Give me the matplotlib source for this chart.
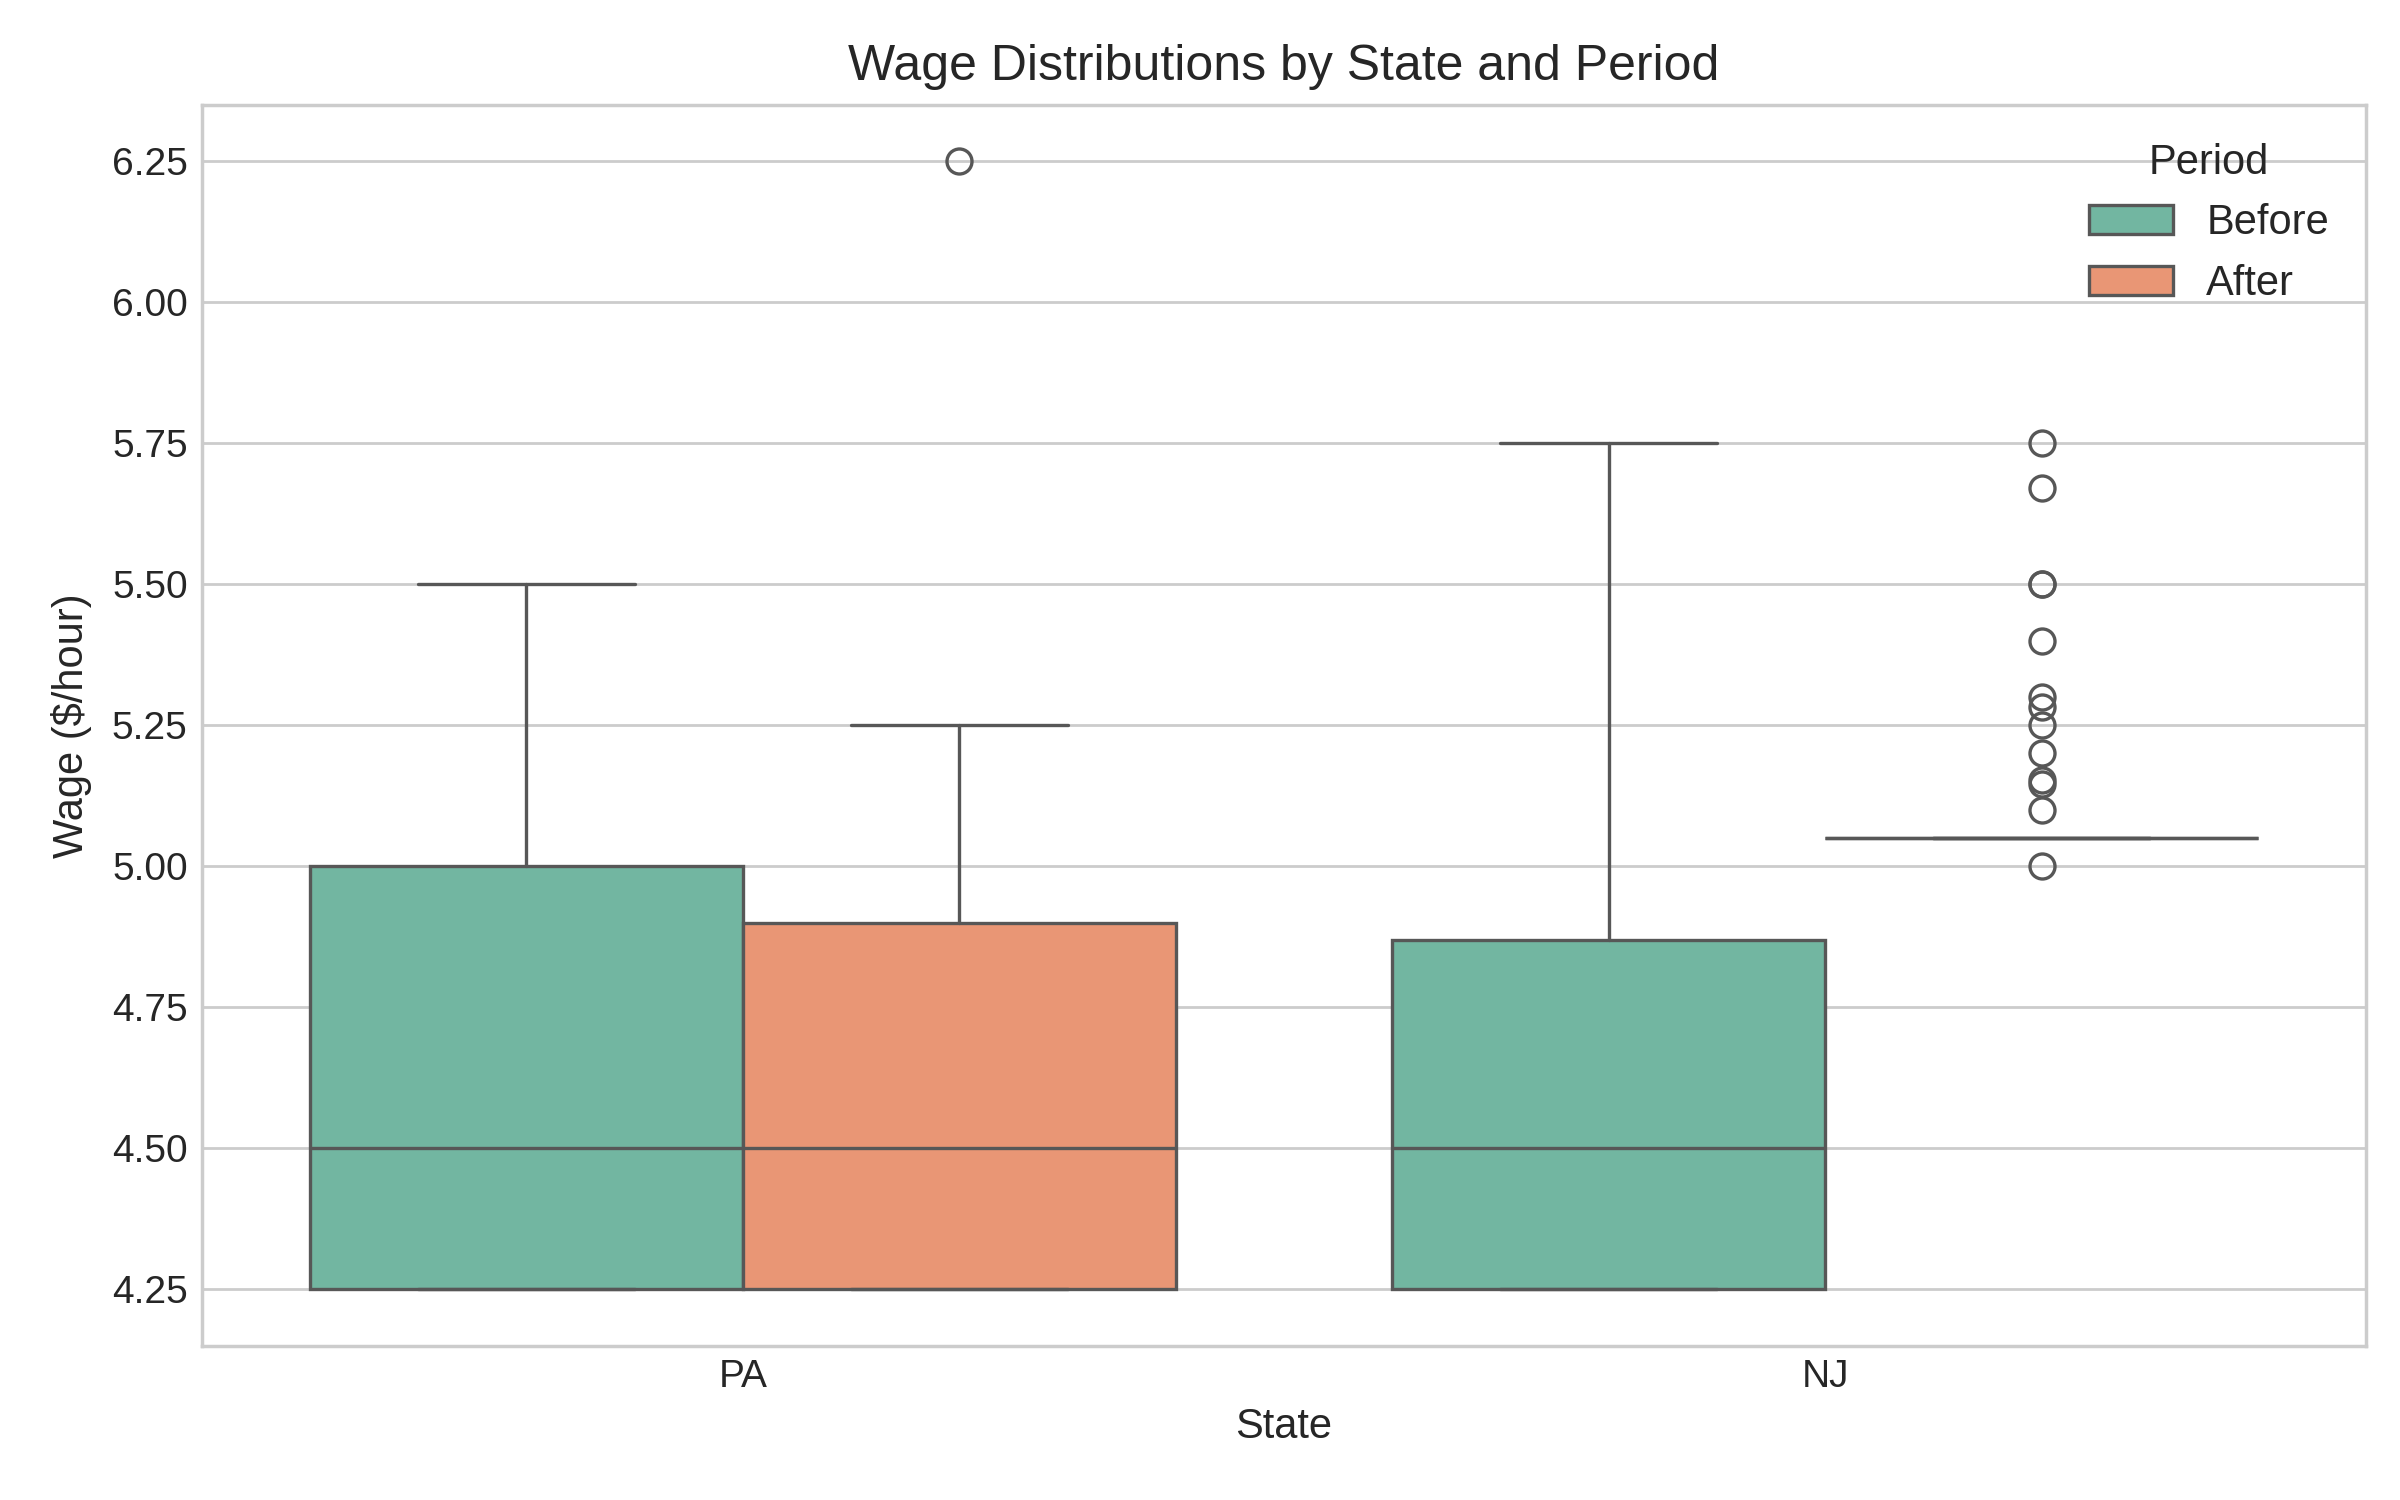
import matplotlib
matplotlib.use("Agg")
import matplotlib.pyplot as plt
from matplotlib.patches import Patch
import seaborn as sns

# ---- data ----
states = ["PA", "NJ"]
periods = ["Before", "After"]
q1 = {"PA": [4.25, 4.25], "NJ": [4.25, 5.05]}
med = {"PA": [4.50, 4.50], "NJ": [4.50, 5.05]}
q3 = {"PA": [5.00, 4.90], "NJ": [4.87, 5.05]}
whislo = {"PA": [4.25, 4.25], "NJ": [4.25, 5.05]}
whishi = {"PA": [5.50, 5.25], "NJ": [5.75, 5.05]}
fliers_pa_before = []
fliers_pa_after = [6.25]
fliers_nj_before = []
fliers_nj_after = [5.00, 5.10, 5.145, 5.153, 5.20, 5.25, 5.283, 5.30, 5.40, 5.50, 5.50, 5.67, 5.75]
fliers = {"PA": [fliers_pa_before, fliers_pa_after], "NJ": [fliers_nj_before, fliers_nj_after]}
yticks = [4.25, 4.50, 4.75, 5.00, 5.25, 5.50, 5.75, 6.00, 6.25]

sns.set_style("whitegrid")
plt.rcParams["font.family"] = ["Liberation Sans", "DejaVu Sans"]
text_color = "#262626"
line_color = "#575757"

base = sns.color_palette("Set2", 2)
colors = [sns.desaturate(c, 0.75) for c in base]

fig = plt.figure(figsize=(12, 7.5), dpi=200)
ax = fig.add_axes([0.084, 0.103, 0.902, 0.827])

width = 0.8
n = len(periods)
bw = width / n
for si, s in enumerate(states):
    for pi, p in enumerate(periods):
        pos = si - width / 2 + bw * (pi + 0.5)
        st = [dict(q1=q1[s][pi], med=med[s][pi], q3=q3[s][pi],
                   whislo=whislo[s][pi], whishi=whishi[s][pi],
                   fliers=fliers[s][pi], label=f"{s}-{p}")]
        ax.bxp(st, positions=[pos], widths=[bw], capwidths=[bw / 2],
               patch_artist=True, manage_ticks=False,
               boxprops=dict(facecolor=colors[pi], edgecolor=line_color, linewidth=1.2),
               medianprops=dict(color=line_color, linewidth=1.2),
               whiskerprops=dict(color=line_color, linewidth=1.2),
               capprops=dict(color=line_color, linewidth=1.2),
               flierprops=dict(marker="o", markerfacecolor="none",
                               markeredgecolor=line_color, markersize=9,
                               markeredgewidth=1.2, linestyle="none"))

ax.set_xlim(-0.5, 1.5)
ax.set_ylim(4.15, 6.35)
ax.set_xticks(range(len(states)))
ax.set_xticklabels(states)
ax.set_yticks(yticks)
ax.set_yticklabels([f"{v:.2f}" for v in yticks])
ax.xaxis.grid(False)
ax.yaxis.grid(True, color="#cccccc", linewidth=1.0)
ax.set_axisbelow(True)
for sp in ax.spines.values():
    sp.set_color("#cccccc")
    sp.set_linewidth(1.25)
ax.tick_params(axis="both", length=0, labelsize=14, colors=text_color, pad=5)

ax.set_title("Wage Distributions by State and Period", fontsize=18, color=text_color, pad=9)
ax.set_xlabel("State", fontsize=15, color=text_color, labelpad=4)
ax.set_ylabel("Wage ($/hour)", fontsize=15, color=text_color, labelpad=7)

handles = [Patch(facecolor=colors[i], edgecolor=line_color, linewidth=1.2, label=p)
           for i, p in enumerate(periods)]
leg = ax.legend(handles=handles, title="Period", loc="upper right", frameon=False,
                fontsize=15, title_fontsize=15)
for t in leg.get_texts():
    t.set_color(text_color)
leg.get_title().set_color(text_color)

fig.savefig("out.png", dpi=200)
